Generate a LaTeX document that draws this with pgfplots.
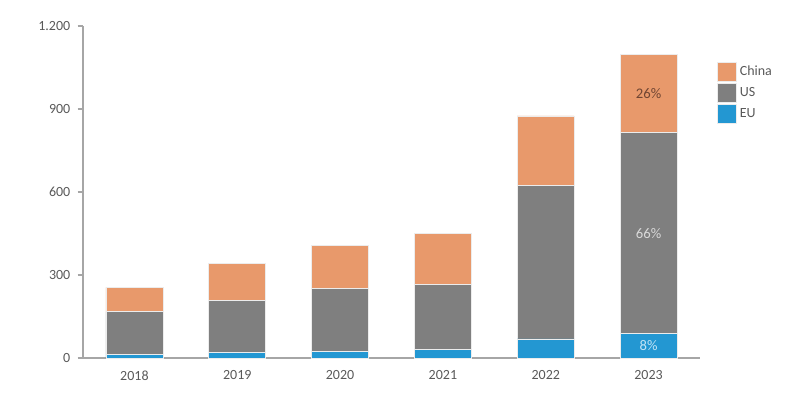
\documentclass[border=0pt]{standalone}
\usepackage{pgfplots}
\pgfplotsset{compat=1.18}
\usepackage{fontspec}
\setmainfont{Carlito}
\definecolor{cChina}{HTML}{E8996B}
\definecolor{cUS}{HTML}{7F7F7F}
\definecolor{cEU}{HTML}{2397D2}
\definecolor{cText}{HTML}{595959}
\definecolor{cAxis}{HTML}{A6A6A6}
\definecolor{cL1}{HTML}{704532}
\definecolor{cL2}{HTML}{D9D9D9}
\definecolor{cL3}{HTML}{C4E4F5}
\begin{document}
\begin{tikzpicture}
\useasboundingbox (0,0) rectangle (605.25pt,297.75pt);
\begin{axis}[
  at={(62.25pt,29.25pt)}, anchor=south west,
  scale only axis, width=462.75pt, height=249pt,
  ybar stacked, bar width=42.75pt,
  xmin=-0.5, xmax=5.5, ymin=0, ymax=1200,
  xtick={0,1,2,3,4,5},
  xticklabels={2018,2019,2020,2021,2022,2023},
  ytick={0,300,600,900,1200},
  axis lines*=left,
  axis line style={cAxis, line width=1pt, -},
  x tick style={draw=none},
  y tick style={cAxis, line width=0.8pt},
  tick align=outside, major tick length=4pt,
  tick label style={font=\fontsize{10.5pt}{12pt}\selectfont, text=cText},
  /pgf/number format/assume math mode=true,
  /pgf/number format/1000 sep={.},
  yticklabel style={xshift=-2pt},
  xticklabel style={yshift=-2pt},
  legend style={at={(rel axis cs:1.0276,0.8916)}, anchor=north west, draw=none, fill=none,
    font=\fontsize{10.5pt}{12pt}\selectfont, text=cText, inner sep=0pt, outer sep=0pt,
    row sep=1.1pt, legend cell align=left,
    /tikz/every even column/.append style={column sep=2pt}},
  legend image code/.code={\fill[#1] (0pt,-7.1pt) rectangle (14.5pt,7.1pt);},
  reverse legend,
  clip=false,
]
\addplot[fill=cEU, draw=white!85!gray, line width=0.6pt] coordinates {(0,13) (1,20) (2,24) (3,30) (4,69) (5,88)};
\addlegendentry{EU}
\addplot[fill=cUS, draw=white!85!gray, line width=0.6pt] coordinates {(0,154) (1,187) (2,228) (3,235) (4,556) (5,727)};
\addlegendentry{US}
\addplot[fill=cChina, draw=white!85!gray, line width=0.6pt] coordinates {(0,88) (1,134) (2,154) (3,186) (4,250) (5,282)};
\addlegendentry{China}
\coordinate (pA) at (axis cs:5,956);
\coordinate (pB) at (axis cs:5,451);
\coordinate (pC) at (axis cs:5,44);
\end{axis}
\node[font=\fontsize{11pt}{13pt}\selectfont, text=cL1] at (pA) {26\%};
\node[font=\fontsize{11pt}{13pt}\selectfont, text=cL2] at (pB) {66\%};
\node[font=\fontsize{11pt}{13pt}\selectfont, text=cL3] at (pC) {8\%};
\end{tikzpicture}
\end{document}
